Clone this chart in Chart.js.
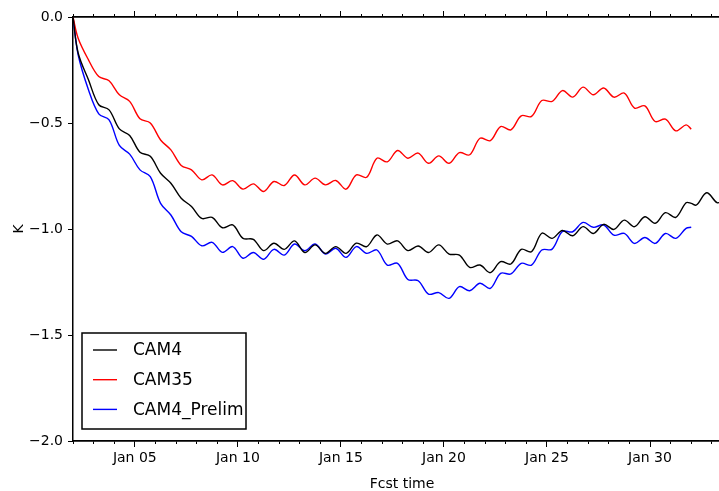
<!DOCTYPE html>
<html>
<head>
<meta charset="utf-8">
<script src="https://cdn.jsdelivr.net/npm/chart.js@4.4.1/dist/chart.umd.min.js"></script>
<style>
  html, body { margin: 0; padding: 0; overflow: hidden; background: #fff; }
  #wrap { width: 731px; height: 491px; }
</style>
</head>
<body>
<div id="wrap"><canvas id="tempChart" width="731" height="491"></canvas></div>
<script>
// forecast time, day of January (00Z Jan 02 = 2)
const fcstDay = [2, 2.25, 2.75, 3.25, 3.75, 4.25, 4.75, 5.25, 5.75, 6.25, 6.75, 7.25, 7.75, 8.25, 8.75,
  9.25, 9.75, 10.25, 10.75, 11.25, 11.75, 12.25, 12.75, 13.25, 13.75, 14.25, 14.75, 15.25, 15.75,
  16.25, 16.75, 17.25, 17.75, 18.25, 18.75, 19.25, 19.75, 20.25, 20.75, 21.25, 21.75, 22.25, 22.75,
  23.25, 23.75, 24.25, 24.75, 25.25, 25.75, 26.25, 26.75, 27.25, 27.75, 28.25, 28.75, 29.25, 29.75,
  30.25, 30.75, 31.25, 31.75, 32, 32.25, 32.75, 33.25, 33.5];

const cam4 = [0, -0.17, -0.296, -0.414, -0.438, -0.528, -0.559, -0.638, -0.657, -0.737,
  -0.784, -0.855, -0.894, -0.95, -0.945, -0.994, -0.981, -1.044, -1.049, -1.102,
  -1.067, -1.096, -1.056, -1.111, -1.075, -1.115, -1.083, -1.115, -1.067, -1.083,
  -1.028, -1.071, -1.056, -1.102, -1.08, -1.111, -1.075, -1.118, -1.123, -1.181,
  -1.17, -1.206, -1.154, -1.165, -1.096, -1.107, -1.02, -1.044, -1.007, -1.032,
  -0.989, -1.021, -0.978, -1.002, -0.958, -0.989, -0.942, -0.973, -0.923, -0.945,
  -0.876, -0.879, -0.887, -0.829, -0.876, -0.87];

const cam35 = [0, -0.10, -0.202, -0.281, -0.301, -0.367, -0.398, -0.48, -0.50, -0.58,
  -0.627, -0.70, -0.721, -0.768, -0.745, -0.792, -0.772, -0.812, -0.787, -0.823,
  -0.776, -0.795, -0.745, -0.792, -0.76, -0.792, -0.771, -0.812, -0.745, -0.756,
  -0.666, -0.683, -0.63, -0.666, -0.642, -0.69, -0.655, -0.69, -0.64, -0.65,
  -0.572, -0.583, -0.517, -0.532, -0.466, -0.469, -0.394, -0.398, -0.347, -0.378,
  -0.331, -0.367, -0.335, -0.378, -0.359, -0.43, -0.419, -0.493, -0.482, -0.537,
  -0.509, -0.529];

const cam4Prelim = [0, -0.178, -0.343, -0.457, -0.485, -0.606, -0.647, -0.721, -0.753, -0.879,
  -0.934, -1.013, -1.035, -1.079, -1.063, -1.11, -1.083, -1.138, -1.111, -1.143,
  -1.096, -1.123, -1.071, -1.102, -1.071, -1.118, -1.091, -1.134, -1.083, -1.115,
  -1.099, -1.17, -1.162, -1.238, -1.244, -1.307, -1.30, -1.327, -1.272, -1.291,
  -1.256, -1.28, -1.209, -1.212, -1.162, -1.17, -1.099, -1.095, -1.012, -1.013,
  -0.969, -0.992, -0.981, -1.029, -1.021, -1.068, -1.04, -1.068, -1.021, -1.044,
  -0.997, -0.992];

const seriesNames = ['CAM4', 'CAM35', 'CAM4_Prelim'];
const seriesColors = ['#000000', '#ff0000', '#0000ff'];

const xTickDays = [5, 10, 15, 20, 25, 30];
const xTickLabels = ['Jan 05', 'Jan 10', 'Jan 15', 'Jan 20', 'Jan 25', 'Jan 30'];
const yTicks = [0, -0.5, -1.0, -1.5, -2.0];
const yTickLabels = ['0.0', '\u22120.5', '\u22121.0', '\u22121.5', '\u22122.0'];

const FONT = 'DejaVu Sans';

function toPoints(values) {
    return values.map((v, i) => ({ x: fcstDay[i], y: v }));
}

// matplotlib-like legend box in the lower left corner
const boxLegend = {
    id: 'boxLegend',
    afterDatasetsDraw(chart) {
        const ctx = chart.ctx;
        const left = 82, top = 333, w = 164, h = 96;
        ctx.save();
        ctx.fillStyle = '#fff';
        ctx.fillRect(left, top, w, h);
        ctx.strokeStyle = '#000';
        ctx.lineWidth = 1.5;
        ctx.strokeRect(left, top, w, h);
        ctx.font = '17px "' + FONT + '"';
        ctx.textBaseline = 'middle';
        chart.data.datasets.forEach((ds, i) => {
            const y = 350 + i * 29.7;
            ctx.strokeStyle = ds.borderColor;
            ctx.lineWidth = 1.4;
            ctx.beginPath();
            ctx.moveTo(93, y);
            ctx.lineTo(117, y);
            ctx.stroke();
            ctx.fillStyle = '#000';
            ctx.fillText(ds.label, 133, y + 1);
        });
        ctx.restore();
    }
};

const xMin = 2, xMax = 33.93;

function xAxis(position, weight, step, len, labels, height) {
    return {
        type: 'linear',
        position: position,
        weight: weight,
        min: xMin,
        max: xMax,
        border: { display: true, color: '#000', width: 1.5 },
        grid: { drawOnChartArea: false, drawTicks: true, tickLength: len, tickColor: '#000', tickWidth: 1 },
        ticks: {
            display: labels,
            includeBounds: false,
            autoSkip: false,
            maxRotation: 0,
            stepSize: step,
            padding: 3,
            color: '#000',
            font: { family: FONT, size: 14 },
            callback: (v) => {
                const k = xTickDays.indexOf(v);
                return k >= 0 ? xTickLabels[k] : '';
            }
        },
        title: labels ? {
            display: true, text: 'Fcst time', color: '#000',
            font: { family: FONT, size: 14, lineHeight: 1.0 }, padding: { top: 0, bottom: 0 }
        } : { display: false },
        afterFit: (scale) => { scale.height = height; }
    };
}

new Chart(document.getElementById('tempChart'), {
    type: 'line',
    data: {
        datasets: [
            { label: seriesNames[0], data: toPoints(cam4), borderColor: seriesColors[0] },
            { label: seriesNames[1], data: toPoints(cam35), borderColor: seriesColors[1] },
            { label: seriesNames[2], data: toPoints(cam4Prelim), borderColor: seriesColors[2] }
        ]
    },
    options: {
        responsive: false,
        animation: false,
        layout: { padding: 0 },
        elements: {
            line: { borderWidth: 1.4, tension: 0.35, fill: false },
            point: { radius: 0, hoverRadius: 0 }
        },
        plugins: {
            legend: { display: false },
            tooltip: { enabled: false }
        },
        scales: {
            x: xAxis('bottom', 1, 5, 6, true, 50),
            xMinor: xAxis('bottom', 0, 1, 3, false, 0),
            xTop: xAxis('top', 1, 5, 6, false, 17),
            xTopMinor: xAxis('top', 0, 1, 3, false, 0),
            y: {
                type: 'linear',
                min: -2,
                max: 0,
                border: { display: true, color: '#000', width: 1.5 },
                grid: { drawOnChartArea: false, drawTicks: true, tickLength: 5, tickColor: '#000', tickWidth: 1 },
                afterBuildTicks: (scale) => { scale.ticks = yTicks.map(v => ({ value: v })); },
                ticks: {
                    padding: 5,
                    color: '#000',
                    font: { family: FONT, size: 14 },
                    callback: (v, i) => yTickLabels[i]
                },
                title: {
                    display: true, text: 'K', color: '#000',
                    font: { family: FONT, size: 14 }, padding: { top: 11, bottom: 0 }
                },
                afterFit: (scale) => { scale.width = 73; }
            }
        }
    },
    plugins: [boxLegend]
});
</script>
</body>
</html>
